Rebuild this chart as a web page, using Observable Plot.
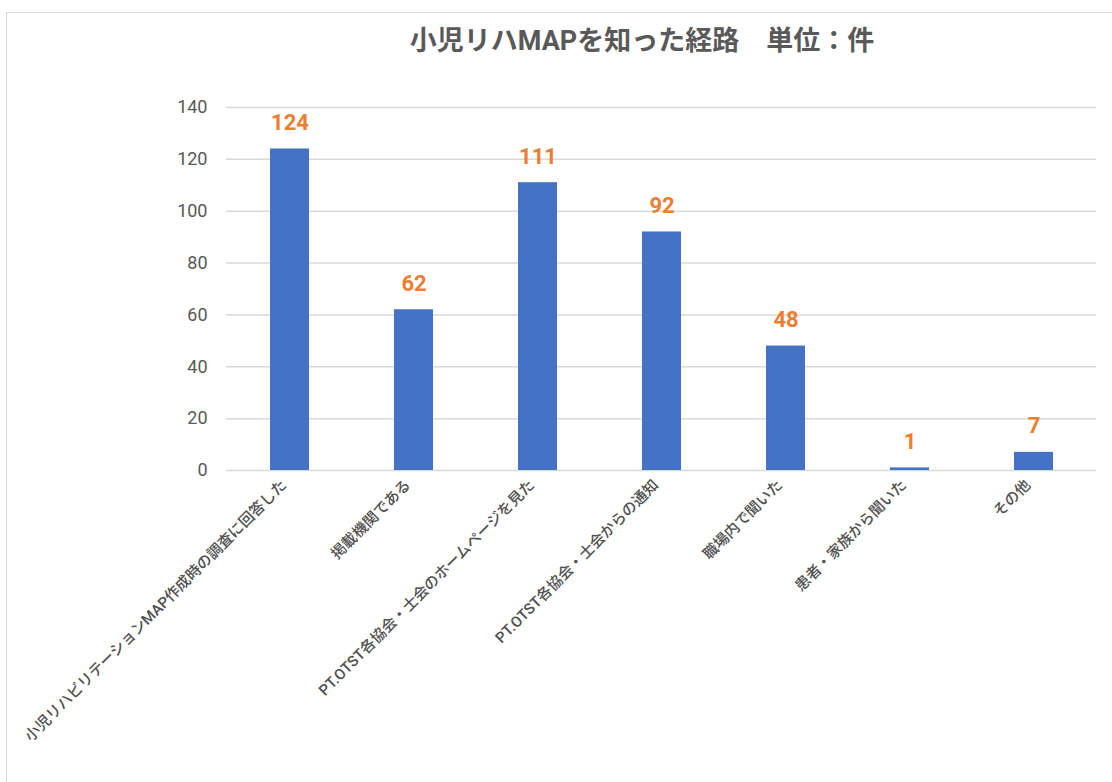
<!DOCTYPE html>
<html>
<head>
<meta charset="utf-8">
<script src="https://cdn.jsdelivr.net/npm/d3@7"></script>
<script src="https://cdn.jsdelivr.net/npm/@observablehq/plot@0.6"></script>
<style>
  html, body { margin: 0; padding: 0; background: #fff; }
  #wrap { position: relative; width: 1112px; height: 782px; overflow: hidden; font-family: Roboto, "Noto Sans CJK JP", sans-serif; }
  #frame { position: absolute; left: 6px; top: 12px; width: 1200px; height: 900px; border: 1.5px solid #d9d9d9; box-sizing: border-box; }
  #title { position: absolute; top: 19px; left: 642px; transform: translateX(-50%); white-space: nowrap;
           font-family: Roboto, "Noto Sans CJK JP", sans-serif; font-size: 27px; font-weight: bold; color: #595959; }
  #chart { position: absolute; left: 0; top: 0; }
</style>
</head>
<body>
<div id="wrap">
  <div id="frame"></div>
  <div id="chart"></div>
  <div id="title">小児リハMAPを知った経路　単位：件</div>
</div>
<script>
const categories = [
  "小児リハビリテーションMAP作成時の調査に回答した",
  "掲載機関である",
  "PT.OTST各協会・士会のホームページを見た",
  "PT.OTST各協会・士会からの通知",
  "職場内で聞いた",
  "患者・家族から聞いた",
  "その他"
];
const values = [124, 62, 111, 92, 48, 1, 7];
const yTicks = [0, 20, 40, 60, 80, 100, 120, 140];

const data = categories.map((c, i) => ({category: c, value: values[i]}));

const chart = Plot.plot({
  width: 1112,
  height: 782,
  marginTop: 107,
  marginBottom: 312,
  marginLeft: 226,
  marginRight: 16,
  style: {background: "transparent", fontFamily: 'Roboto, "Noto Sans CJK JP", sans-serif', color: "#595959"},
  x: {domain: categories, paddingInner: 0.686, paddingOuter: 0.343, label: null},
  y: {domain: [0, 140], ticks: yTicks, label: null},
  marks: [
    Plot.ruleY(yTicks, {stroke: "#d9d9d9", strokeWidth: 1.5}),
    Plot.barY(data, {x: "category", y: "value", fill: "#4472C4"}),
    Plot.text(data, {x: "category", y: "value", text: d => String(d.value), dy: -19, lineAnchor: "bottom",
      fill: "#ED7D31", fontWeight: "bold", fontSize: 22}),
    Plot.axisY({ticks: yTicks, tickSize: 0, tickPadding: 19, fontSize: 18, fill: "#595959", label: null}),
    Plot.axisX({tickSize: 0, tickPadding: 12, tickRotate: -45, dx: -6, fontSize: 15, fontWeight: 500, fill: "#505050", label: null})
  ]
});
document.getElementById("chart").appendChild(chart);
</script>
</body>
</html>
